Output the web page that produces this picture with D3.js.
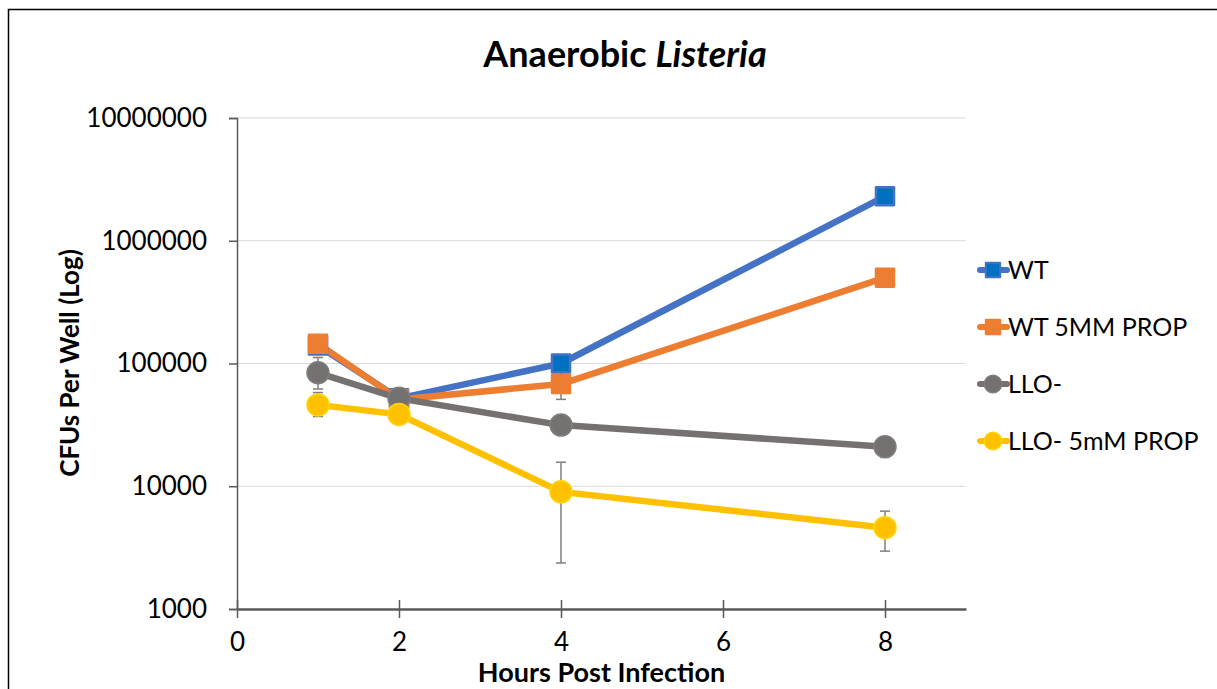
<!DOCTYPE html>
<html>
<head>
<meta charset="utf-8">
<script src="https://cdn.jsdelivr.net/npm/d3@7"></script>
<style>
  body { margin: 0; background: #fff; }
  text { font-family: Lato, "Open Sans", sans-serif; fill: #000; }
</style>
</head>
<body>
<svg id="chart" width="1217" height="689"></svg>
<script>
// hours post infection
var hours = [1, 2, 4, 8];

// CFUs per well
var wt      = [140000, 52000, 100000, 2300000];
var wtProp  = [145000, 51000, 68000, 500000];
var llo     = [84000, 52000, 31500, 21000];
var lloProp = [46000, 38500, 9000, 4600];

// error bar ends (low / high)
var wtLow       = [135000, 50000, 96000, 2200000];
var wtHigh      = [145000, 54000, 104000, 2400000];
var wtPropLow   = [140000, 49000, 51000, 480000];
var wtPropHigh  = [150000, 53000, 85000, 520000];
var lloLow      = [62000, 50000, 30000, 17200];
var lloHigh     = [112000, 54000, 33000, 25000];
var lloPropLow  = [37000, 37000, 2370, 2960];
var lloPropHigh = [58000, 40000, 15700, 6270];

var seriesNames = ["WT", "WT 5MM PROP", "LLO-", "LLO- 5mM PROP"];
var xTicks = [0, 2, 4, 6, 8];
var yTicks = [1000, 10000, 100000, 1000000, 10000000];

var series = [
  {name: seriesNames[0], values: wt, low: wtLow, high: wtHigh, color: "#4472C4", fill: "#0070C0", shape: "square"},
  {name: seriesNames[1], values: wtProp, low: wtPropLow, high: wtPropHigh, color: "#ED7D31", fill: "#ED7D31", shape: "square"},
  {name: seriesNames[2], values: llo, low: lloLow, high: lloHigh, color: "#767171", fill: "#767171", shape: "circle"},
  {name: seriesNames[3], values: lloProp, low: lloPropLow, high: lloPropHigh, color: "#FFC000", fill: "#FFC000", shape: "circle"}
];

var svg = d3.select("#chart");

// outer frame (cut off at right and bottom like the screenshot)
svg.append("rect")
  .attr("x", 8.5).attr("y", 9.5)
  .attr("width", 1230).attr("height", 700)
  .attr("fill", "none").attr("stroke", "#000").attr("stroke-width", 1.5);

var x = d3.scaleLinear().domain([0, 9]).range([237, 966]);
var y = d3.scaleLog().domain([1000, 10000000]).range([609, 118]);

// gridlines
svg.append("g").selectAll("line")
  .data(yTicks.slice(1))
  .enter().append("line")
  .attr("x1", x(0)).attr("x2", x(9))
  .attr("y1", function(d) { return y(d); })
  .attr("y2", function(d) { return y(d); })
  .attr("stroke", "#d9d9d9").attr("stroke-width", 1.2);

// y axis
var yAxis = d3.axisLeft(y).tickValues(yTicks).tickFormat(d3.format("d")).tickSize(8).tickPadding(22);
var gy = svg.append("g").attr("transform", "translate(" + x(0) + ",0)").call(yAxis);
gy.select(".domain").attr("stroke", "#595959").attr("stroke-width", 1.5);
gy.selectAll(".tick line").attr("stroke", "#595959").attr("stroke-width", 1.5);
gy.selectAll(".tick text").style("font-size", "26px").attr("fill", "#000");

// x axis (ticks cross the line)
var xAxis = d3.axisBottom(x).tickValues(xTicks).tickSizeInner(9).tickSizeOuter(0).tickPadding(15);
var gx = svg.append("g").attr("transform", "translate(0," + y(1000) + ")").call(xAxis);
gx.select(".domain").attr("stroke", "#595959").attr("stroke-width", 2.5);
gx.selectAll(".tick line").attr("y1", -9).attr("stroke", "#595959").attr("stroke-width", 1.5);
gx.selectAll(".tick text").style("font-size", "26px").attr("fill", "#000");

// lines
var line = d3.line()
  .x(function(d, i) { return x(hours[i]); })
  .y(function(d) { return y(d); });

series.forEach(function(s) {
  svg.append("path")
    .datum(s.values)
    .attr("d", line)
    .attr("fill", "none")
    .attr("stroke", s.color)
    .attr("stroke-width", 6.5)
    .attr("stroke-linejoin", "round");
});

// error bars
series.forEach(function(s) {
  var eb = svg.append("g").selectAll("g")
    .data(hours)
    .enter().append("g")
    .attr("stroke", "#7f7f7f").attr("stroke-width", 1.5);
  eb.append("line")
    .attr("x1", function(d) { return x(d); }).attr("x2", function(d) { return x(d); })
    .attr("y1", function(d, i) { return y(s.low[i]); })
    .attr("y2", function(d, i) { return y(s.high[i]); });
  eb.append("line")
    .attr("x1", function(d) { return x(d) - 5; }).attr("x2", function(d) { return x(d) + 5; })
    .attr("y1", function(d, i) { return y(s.low[i]); })
    .attr("y2", function(d, i) { return y(s.low[i]); });
  eb.append("line")
    .attr("x1", function(d) { return x(d) - 5; }).attr("x2", function(d) { return x(d) + 5; })
    .attr("y1", function(d, i) { return y(s.high[i]); })
    .attr("y2", function(d, i) { return y(s.high[i]); });
});

// markers
function drawMarker(g, s, cx, cy) {
  if (s.shape == "square") {
    g.append("rect")
      .attr("x", cx - 9).attr("y", cy - 9)
      .attr("width", 18).attr("height", 18)
      .attr("fill", s.fill).attr("stroke", s.color).attr("stroke-width", 2.5)
      .attr("stroke-linejoin", "round");
  } else {
    g.append("circle")
      .attr("cx", cx).attr("cy", cy).attr("r", 11)
      .attr("fill", s.fill).attr("stroke", d3.color(s.fill).brighter(0.3)).attr("stroke-width", 1.5);
  }
}

series.forEach(function(s) {
  var g = svg.append("g");
  s.values.forEach(function(v, i) { drawMarker(g, s, x(hours[i]), y(v)); });
});

// legend
var legend = svg.append("g");
series.forEach(function(s, i) {
  var ly = 270 + i * 57;
  legend.append("line")
    .attr("x1", 980).attr("x2", 1007).attr("y1", ly).attr("y2", ly)
    .attr("stroke", s.color).attr("stroke-width", 6).attr("stroke-linecap", "round");
  var m = legend.append("g").attr("transform", "translate(993," + ly + ") scale(0.8)");
  drawMarker(m, s, 0, 0);
  legend.append("text")
    .attr("x", 1008).attr("y", ly).attr("dy", "0.36em")
    .style("font-size", "25px")
    .text(s.name);
});

// title
var title = svg.append("text")
  .attr("x", 625).attr("y", 67)
  .attr("text-anchor", "middle")
  .style("font-size", "36px").style("font-weight", "bold");
title.append("tspan").text("Anaerobic ");
title.append("tspan").style("font-style", "italic").text("Listeria");

// axis titles
svg.append("text")
  .attr("x", x(4.5)).attr("y", 682)
  .attr("text-anchor", "middle")
  .style("font-size", "27px").style("font-weight", "bold")
  .text("Hours Post Infection");

svg.append("text")
  .attr("transform", "translate(79,363) rotate(-90)")
  .attr("text-anchor", "middle")
  .style("font-size", "26px").style("font-weight", "bold")
  .text("CFUs Per Well (Log)");
</script>
</body>
</html>
